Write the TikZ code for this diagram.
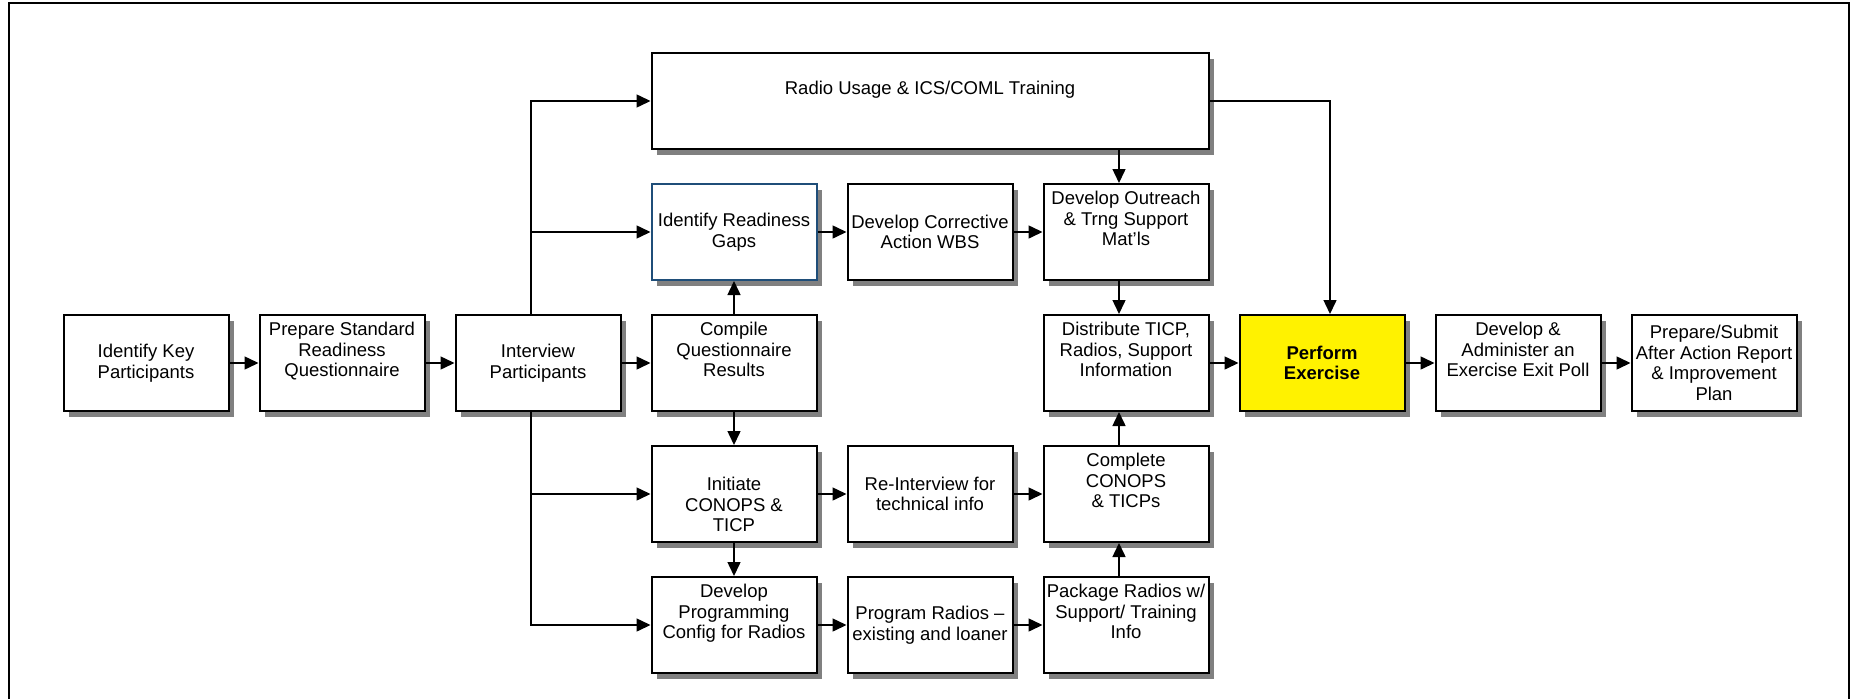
\documentclass[tikz,border=0pt]{standalone}
\usepackage{fontspec}
\setmainfont{Liberation Sans}
\usetikzlibrary{arrows.meta,positioning,shadows}
\definecolor{gapblue}{HTML}{1F4E79}

\begin{document}
\begin{tikzpicture}[x=1pt, y=1pt, font=\fontsize{18.5}{20.5}\selectfont, node distance=33pt and 29pt, >={Triangle[length=14pt,width=13pt]}]
\tikzset{
  box/.style ={rectangle, draw, line width=2pt, fill=white, align=center, inner sep=2pt, minimum width=165pt, minimum height=96pt,
               drop shadow={shadow xshift=5.5pt, shadow yshift=-5.5pt, fill=black!50, opacity=1}},
  gapbox/.style={box, draw=gapblue},
  hot/.style ={box, fill=yellow, font=\fontsize{18.5}{20.5}\selectfont\bfseries},
  wide/.style={box, minimum width=557pt},
  link/.style={->, line width=1.5pt}
}
\path[fill=white, use as bounding box] (0,0) rectangle (1855,-699);
\draw[line width=2pt] (9,-699) -- (9,-3) -- (1849,-3) -- (1849,-699);

% main row
\node[box]               (key)  at (146,-363) {Identify Key\\Participants};
\node[box, right=of key] (prep) {Prepare Standard\\Readiness\\Questionnaire\\\strut};
\node[box, right=of prep](intv) {Interview\\Participants};
\node[box, right=of intv](comp) {Compile\\Questionnaire\\Results\\\strut};
% upper rows
\node[gapbox, above=of comp](gaps) {Identify Readiness\\Gaps};
\node[box, right=of gaps](corr) {Develop Corrective\\Action WBS};
\node[box, right=of corr](outr) {Develop Outreach\\\& Trng Support\\Mat’ls\\\strut};
\node[wide, above=of corr](radio){Radio Usage \& ICS/COML Training\\\strut};
\node[box, below=of outr](dist) {Distribute TICP,\\Radios, Support\\Information\\\strut};
\node[hot, right=of dist](perf) {Perform\\Exercise};
\node[box, right=of perf](poll) {Develop \&\\Administer an\\Exercise Exit Poll\\\strut};
\node[box, right=of poll](aar)  {Prepare/Submit\\After Action Report\\\& Improvement\\Plan};
% lower rows
\node[box, below=of comp](init) {\strut\\Initiate\\CONOPS \&\\TICP};
\node[box, right=of init](reint){Re-Interview for\\technical info};
\node[box, right=of reint](conops){Complete\\CONOPS\\\& TICPs\\\strut};
\node[box, below=of init](prog) {Develop\\Programming\\Config for Radios\\\strut};
\node[box, right=of prog](load) {Program Radios --\\existing and loaner};
\node[box, right=of load](pack) {Package Radios w/\\Support/ Training\\Info\\\strut};

\draw[link] (key) -- (prep);
\draw[link] (prep) -- (intv);
\draw[link] (intv) -- (comp);
\draw[link] ([xshift=-7pt]intv.north) |- (radio);
\draw[link] ([xshift=-7pt]intv.north) |- (gaps);
\draw[link] ([xshift=-7pt]intv.south) |- (init);
\draw[link] ([xshift=-7pt]intv.south) |- (prog);
\draw[link] (comp) -- (gaps);
\draw[link] (comp) -- (init);
\draw[link] (init) -- (prog);
\draw[link] (gaps) -- (corr);
\draw[link] (corr) -- (outr);
\draw[link] ([xshift=-7pt]outr.north |- radio.south) -- ([xshift=-7pt]outr.north);
\draw[link] ([xshift=-7pt]outr.south) -- ([xshift=-7pt]dist.north);
\draw[link] (radio.east) -| ([xshift=8pt]perf.north);
\draw[link] (dist) -- (perf);
\draw[link] (perf) -- (poll);
\draw[link] (poll) -- (aar);
\draw[link] (init) -- (reint);
\draw[link] (reint) -- (conops);
\draw[link] ([xshift=-7pt]conops.north) -- ([xshift=-7pt]dist.south);
\draw[link] (prog) -- (load);
\draw[link] (load) -- (pack);
\draw[link] ([xshift=-7pt]pack.north) -- ([xshift=-7pt]conops.south);
\end{tikzpicture}
\end{document}
